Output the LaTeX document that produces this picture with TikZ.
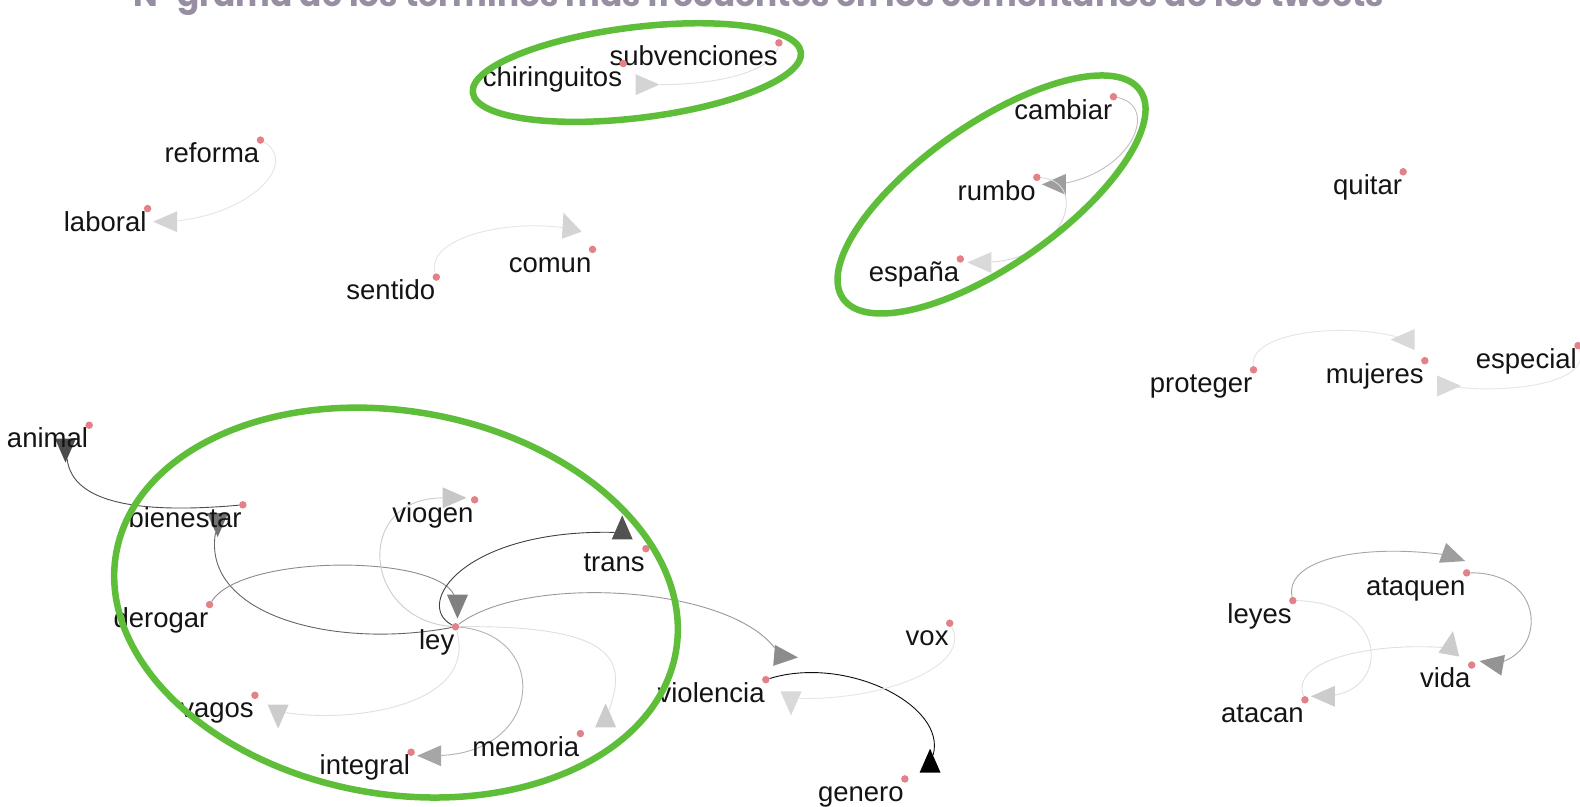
\documentclass[tikz,border=0pt]{standalone}
\usepackage{fontspec}
\setmainfont{Liberation Sans}
\newfontfamily\titlefont{Poppins}
\usetikzlibrary{shapes.geometric}
\pgfdeclarelayer{bg}
\pgfdeclarelayer{edges}
\pgfdeclarelayer{top}
\pgfsetlayers{bg,edges,main,top}
\definecolor{hlgreen}{RGB}{94,190,58}
\definecolor{dotred}{RGB}{228,128,135}
\definecolor{titlecol}{RGB}{152,142,162}
\definecolor{wordcol}{RGB}{20,20,20}
\tikzset{
  dotn/.style={circle, fill=dotred, draw=none, inner sep=0pt, minimum size=7.5pt},
  word/.style={anchor=base east, xshift=-1pt, yshift=-22.7pt, inner sep=0pt,
    text=wordcol, font=\fontsize{27.5}{30}\selectfont},
  tri/.style={isosceles triangle, isosceles triangle stretches, inner sep=0pt,
    minimum width=21pt, minimum height=24pt, draw=none, fill=#1},
  edge/.style={draw=#1, line width=0.9pt},
  hl/.style={draw=hlgreen, line width=6.5pt},
  ttl/.style={anchor=base, inner sep=0pt, text=titlecol,
    font=\titlefont\bfseries\fontsize{32.8}{36}\selectfont}
}
\newcommand\wordnode[4]{%
  \node[dotn] (#1) at (#2,#3) {};
  \node[word] (#1-t) at (#1) {#4};
}
\begin{document}
\begin{tikzpicture}[x=1.0077pt, y=-1.0077pt]
\useasboundingbox (0,0) rectangle (1568,800);
\begin{pgfonlayer}{bg}
\fill[white] (0,0) rectangle (1568,800);
\end{pgfonlayer}

\node[ttl] (title) at (753,6.5) {N-grama de los términos más frecuentes en los comentarios de los tweets};

% words
\wordnode{subvenciones}{773}{42.5}{subvenciones}
\wordnode{chiringuitos}{618.5}{63}{chiringuitos}
\wordnode{reforma}{258.5}{139}{reforma}
\wordnode{laboral}{146.5}{207}{laboral}
\wordnode{sentido}{433}{275}{sentido}
\wordnode{comun}{588}{247.5}{comun}
\wordnode{cambiar}{1105}{96}{cambiar}
\wordnode{rumbo}{1029}{176}{rumbo}
\wordnode{espana}{953}{257}{españa}
\wordnode{quitar}{1392.5}{170.5}{quitar}
\wordnode{proteger}{1244}{367}{proteger}
\wordnode{mujeres}{1414}{358}{mujeres}
\wordnode{especial}{1566}{343}{especial}
\wordnode{animal}{88.5}{422}{animal}
\wordnode{bienestar}{241}{501}{bienestar}
\wordnode{viogen}{471}{496}{viogen}
\wordnode{trans}{641}{544.5}{trans}
\wordnode{derogar}{208}{600}{derogar}
\wordnode{ley}{452}{622}{ley}
\wordnode{vox}{942.5}{618.5}{vox}
\wordnode{violencia}{760}{674.5}{violencia}
\wordnode{vagos}{253}{690}{vagos}
\wordnode{memoria}{576}{728}{memoria}
\wordnode{integral}{408}{746.5}{integral}
\wordnode{genero}{898}{773}{genero}
\wordnode{leyes}{1283}{596}{leyes}
\wordnode{ataquen}{1455.5}{568.5}{ataquen}
\wordnode{vida}{1460.5}{660}{vida}
\wordnode{atacan}{1295}{694.5}{atacan}

\begin{pgfonlayer}{edges}
% arrowheads
\node[tri=black!17, rotate=0] (a1) at (637.5,84) {};
\node[tri=black!17, rotate=180] (a2) at (169,220) {};
\node[tri=black!17, rotate=110] (a3) at (565,227) {};
\node[tri=black!38, rotate=180] (a4) at (1051,183) {};
\node[tri=black!15, rotate=180] (a5) at (977,260.5) {};
\node[tri=black!15, rotate=180] (a6) at (1397,337) {};
\node[tri=black!15, rotate=0] (a7) at (1433,383) {};
\node[tri=black!70, rotate=-90] (a8) at (65,442) {};
\node[tri=black!55, rotate=-90] (a9) at (216,516) {};
\node[tri=black!22, rotate=0] (a10) at (446,494) {};
\node[tri=black!50, rotate=-90] (a11) at (454,597) {};
\node[tri=black!68, rotate=90] (a12) at (617.5,528.5) {};
\node[tri=black!45, rotate=-5] (a13) at (775,651) {};
\node[tri=black!20, rotate=-90] (a14) at (276,706) {};
\node[tri=black!20, rotate=90] (a15) at (601,715) {};
\node[tri=black!35, rotate=180] (a16) at (431,750) {};
\node[tri=black, rotate=90] (a17) at (923,760) {};
\node[tri=black!15, rotate=-90] (a18) at (785,693) {};
\node[tri=black!38, rotate=-20] (a19) at (1438,551) {};
\node[tri=black!42, rotate=170] (a20) at (1485,659) {};
\node[tri=black!20, rotate=180] (a21) at (1318,691) {};
\node[tri=black!20, rotate=80] (a22) at (1439,643) {};

% connectors
\draw[edge=black!12] (subvenciones) .. controls (768,70) and (715,84) .. (a1);
\draw[edge=black!10] (reforma) .. controls (295,160) and (255,210) .. (a2);
\draw[edge=black!10] (sentido) .. controls (422,235) and (505,218) .. (a3);
\draw[edge=black!25] (cambiar) .. controls (1150,105) and (1125,168) .. (a4);
\draw[edge=black!15] (rumbo) .. controls (1080,180) and (1060,255) .. (a5);
\draw[edge=black!10] (proteger) .. controls (1240,330) and (1330,320) .. (a6);
\draw[edge=black!10] (especial) .. controls (1580,380) and (1500,390) .. (a7);
\draw[edge=black!70] (bienestar) .. controls (140,510) and (72,500) .. (a8);
\draw[edge=black!60] (ley) .. controls (330,645) and (200,610) .. (a9);
\draw[edge=black!45] (derogar) .. controls (240,550) and (430,550) .. (a11);
\draw[edge=black!75] (ley) .. controls (410,600) and (460,525) .. (a12);
\draw[edge=black!20] (ley) .. controls (360,615) and (350,495) .. (a10);
\draw[edge=black!40] (ley) .. controls (520,570) and (720,580) .. (a13);
\draw[edge=black!12] (ley) .. controls (475,700) and (350,718) .. (a14);
\draw[edge=black!12] (ley) .. controls (620,620) and (620,660) .. (a15);
\draw[edge=black!30] (ley) .. controls (545,630) and (540,745) .. (a16);
\draw[edge=black!95] (violencia) .. controls (840,650) and (940,700) .. (a17);
\draw[edge=black!10] (vox) .. controls (965,660) and (880,695) .. (a18);
\draw[edge=black!35] (leyes) .. controls (1275,555) and (1350,540) .. (a19);
\draw[edge=black!35] (ataquen) .. controls (1530,568) and (1535,640) .. (a20);
\draw[edge=black!12] (leyes) .. controls (1375,598) and (1380,680) .. (a21);
\draw[edge=black!12] (atacan) .. controls (1280,655) and (1360,638) .. (a22);
\end{pgfonlayer}

\begin{pgfonlayer}{top}
\draw[hl, rotate around={7:(632,72)}] (632,72) ellipse [x radius=164, y radius=45];
\draw[hl, rotate around={35:(984,193)}] (984,193) ellipse [x radius=180, y radius=70];
\draw[hl, rotate around={-10:(393,598)}] (393,598) ellipse [x radius=282, y radius=190];
\end{pgfonlayer}
\end{tikzpicture}
\end{document}
